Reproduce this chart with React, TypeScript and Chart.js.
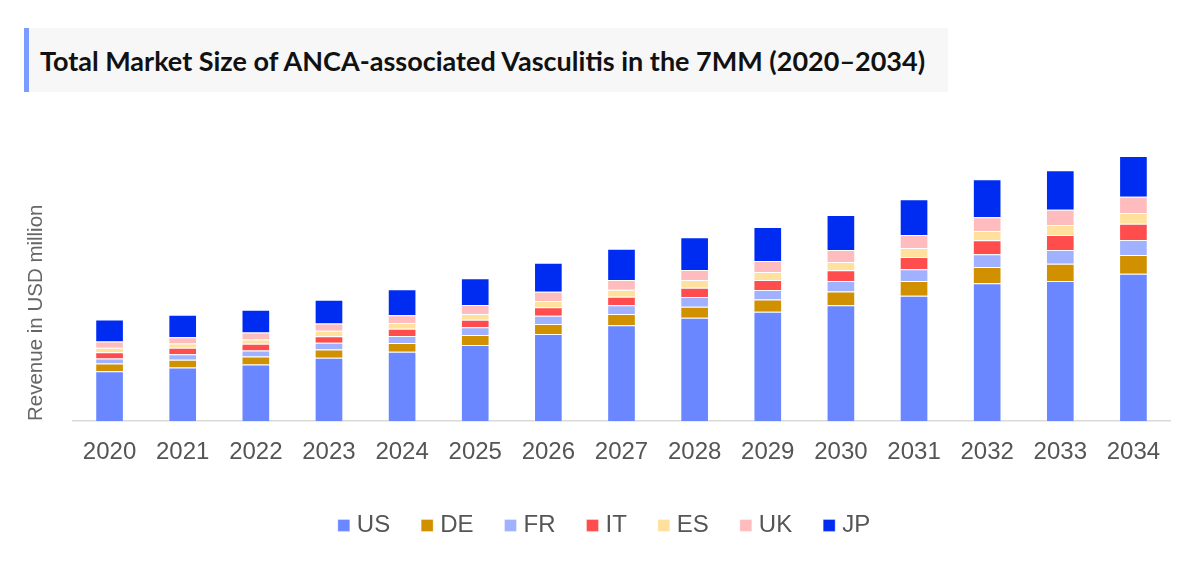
import { useEffect, useRef } from 'react';
import { Chart, registerables } from 'chart.js';

Chart.register(...registerables);

// years on the x axis
const years = ['2020', '2021', '2022', '2023', '2024', '2025', '2026', '2027', '2028', '2029', '2030', '2031', '2032', '2033', '2034'];

// revenue per country (relative units, the chart has no y ticks)
const usValues = [49.8, 53.5, 56.5, 63.2, 69.3, 76, 87, 95.7, 103.3, 109.3, 115.7, 125.3, 137.7, 140, 147.3];
const deValues = [7.7, 7.7, 8, 8.3, 8.7, 10, 10, 11.3, 11, 12.3, 13.7, 14.7, 16.3, 17.3, 18.7];
const frValues = [5, 5.6, 6, 6.7, 7, 7.7, 8.3, 8.7, 9.7, 9.3, 10.7, 11.7, 12.7, 13.7, 15];
const itValues = [6.3, 6.4, 6.7, 6.6, 7.3, 7.6, 8.4, 8.6, 9.3, 10, 10.7, 12.3, 14, 15, 16.3];
const esValues = [4.4, 4.3, 4.3, 5.4, 5.7, 5.7, 6.3, 7, 7.7, 8, 8.3, 9, 9.3, 10, 10.7];
const ukValues = [6.3, 6.3, 7, 7.3, 7.7, 9, 9.3, 9.7, 10, 11, 12, 13, 13.7, 15.3, 16.3];
const jpValues = [22, 22.4, 22.7, 23.7, 26, 26.7, 29, 31.3, 32.7, 34, 35, 35.7, 38, 39.4, 40.7];

const countries = ['US', 'DE', 'FR', 'IT', 'ES', 'UK', 'JP'];
const colors = ['#6a87ff', '#d09000', '#a0b2ff', '#ff4c4c', '#ffe09c', '#ffbcbe', '#002cf2'];

const FONT = 'Arial, "Liberation Sans", sans-serif';

const App = () => {
  const canvasRef = useRef<HTMLCanvasElement>(null);

  useEffect(() => {
    if (!canvasRef.current) return;
    const series = [usValues, deValues, frValues, itValues, esValues, ukValues, jpValues];

    const chart = new Chart(canvasRef.current, {
      type: 'bar',
      data: {
        labels: years,
        datasets: countries.map((name, i) => ({
          label: name,
          data: series[i],
          backgroundColor: colors[i],
          borderColor: 'rgba(255,255,255,0.35)',
          borderWidth: 1,
          barPercentage: 0.49,
          categoryPercentage: 0.8,
        })),
      },
      options: {
        responsive: false,
        animation: false,
        // left padding pushes the centred legend to the right like the original
        layout: { padding: { left: 43, right: 30, top: 130, bottom: 18.6 } },
        scales: {
          x: {
            stacked: true,
            grid: { display: false, drawTicks: false },
            border: { display: true, color: '#d9d9d9', width: 1.5 },
            ticks: { color: '#555', font: { family: FONT, size: 24 }, padding: 17 },
            afterFit: (scale) => {
              scale.height = 56.4;
            },
          },
          y: {
            stacked: true,
            min: 0,
            max: 291,
            grid: { display: false, drawTicks: false },
            border: { display: false },
            ticks: { display: false },
            title: {
              display: true,
              text: 'Revenue in USD million',
              align: 'start',
              color: '#666',
              font: { family: FONT, size: 20.5 },
              padding: { top: -19.3, bottom: 0 },
            },
            afterFit: (scale) => {
              scale.width = 30;
            },
          },
        },
        plugins: {
          legend: {
            position: 'bottom',
            labels: {
              usePointStyle: true,
              pointStyle: 'rect',
              boxWidth: 2,
              boxHeight: 12,
              padding: 36,
              color: '#555',
              font: { family: FONT, size: 24 },
            },
          },
          tooltip: { enabled: false },
        },
      },
    });

    return () => {
      chart.destroy();
    };
  }, []);

  return (
    <div style={{ position: 'absolute', left: 0, top: 0, width: 1200, height: 566, background: '#fff' }}>
      <canvas ref={canvasRef} width={1200} height={566} style={{ position: 'absolute', left: 0, top: 0 }} />
      <div
        style={{
          position: 'absolute',
          left: 24,
          top: 28,
          width: 924,
          height: 64,
          background: '#f7f7f7',
          borderLeft: '5px solid #7b9cff',
          boxSizing: 'border-box',
          display: 'flex',
          alignItems: 'center',
          paddingLeft: 11,
          fontFamily: 'Lato, sans-serif',
          fontWeight: 700,
          fontSize: 27,
          color: '#111',
          whiteSpace: 'nowrap',
        }}
      >
        Total Market Size of ANCA-associated Vasculitis in the 7MM (2020–2034)
      </div>
    </div>
  );
};

export default App;
